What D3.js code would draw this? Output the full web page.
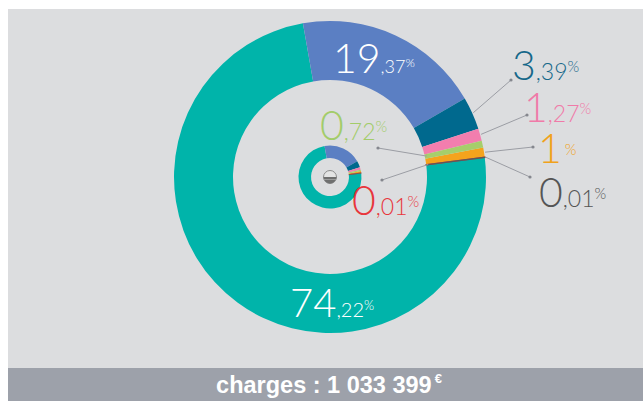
<!DOCTYPE html>
<html lang="fr">
<head>
<meta charset="UTF-8">
<title>charges</title>
<script src="https://d3js.org/d3.v7.min.js"></script>
<style>
  body { margin: 0; background: #fff; }
  svg { display: block; }
</style>
</head>
<body>
<svg></svg>
<script>
// data
const shares = [19.37, 3.39, 1.27, 0.72, 1, 0.01, 0.01, 74.22];
const colors = ['#5b7fc3', '#00698e', '#f27eae', '#a6ce6b', '#f4a31d', '#e5383b', '#5a5a5a', '#00b4aa'];
const labelColors = ['#ffffff', '#16688a', '#f07aa8', '#a3cc6a', '#f0a21b', '#e8363c', '#555555', '#ffffff'];
const totalLabel = 'charges : 1 033 399';
const currency = '€';

// layout (not data)
const w = 643, h = 401;
const cx = 330, cy = 177;
const R = 156, r = 97;
const smallR = 31.5, smallr = 19;
const start = -10 * Math.PI / 180;
// text start / baseline, leader kind, dot position
const labelLayout = [
  { x: 333, y: 73, leader: null, big: 41, dec: 18, pct: 12, raise: 6 },
  { x: 512, y: 80, leader: 'outer', dot: [511, 80] },
  { x: 524, y: 122, leader: 'outer', dot: [527, 115] },
  { x: 320, y: 140, leader: 'inner', dot: [378, 148] },
  { x: 538, y: 163, leader: 'outer', dot: [533, 147] },
  { x: 352, y: 215, leader: 'inner', dot: [382, 180] },
  { x: 539, y: 207, leader: 'outer', dot: [530, 177] },
  { x: 290, y: 317, leader: null, big: 40, dec: 20, pct: 13, raise: 7 }
];

const svg = d3.select('svg')
  .attr('width', w)
  .attr('height', h);

svg.append('rect')
  .attr('x', 8).attr('y', 9)
  .attr('width', w - 8).attr('height', 359)
  .attr('fill', '#dcdddf');

svg.append('rect')
  .attr('x', 8).attr('y', 368)
  .attr('width', w - 8).attr('height', h - 368)
  .attr('fill', '#9da1aa');

const pie = d3.pie()
  .sort(null)
  .startAngle(start)
  .endAngle(start + 2 * Math.PI);

const arcs = pie(shares);
// tiny slices are drawn last with a stroke so they stay visible
const ordered = arcs.map((d, i) => ({ d, i }))
  .sort((a, b) => (b.d.endAngle - b.d.startAngle) - (a.d.endAngle - a.d.startAngle));
const tiny = d => (d.endAngle - d.startAngle) < 0.01;

const bigArc = d3.arc().innerRadius(r).outerRadius(R);
const smallArc = d3.arc().innerRadius(smallr).outerRadius(smallR);

const g = svg.append('g')
  .attr('transform', `translate(${cx},${cy})`);

g.selectAll('path.big')
  .data(ordered)
  .enter()
  .append('path')
  .attr('class', 'big')
  .attr('d', o => bigArc(o.d))
  .attr('fill', o => colors[o.i])
  .attr('stroke', o => tiny(o.d) ? colors[o.i] : 'none')
  .attr('stroke-width', 1.3);

g.selectAll('path.small')
  .data(ordered)
  .enter()
  .append('path')
  .attr('class', 'small')
  .attr('d', o => smallArc(o.d))
  .attr('fill', o => colors[o.i])
  .attr('stroke', o => tiny(o.d) ? colors[o.i] : 'none')
  .attr('stroke-width', 0.5);

// little icon in the middle
g.append('circle')
  .attr('r', 6.5)
  .attr('fill', '#e4e4e4')
  .attr('stroke', '#8c8c8c')
  .attr('stroke-width', 1);
g.append('path')
  .attr('d', d3.arc().innerRadius(0).outerRadius(6.5)({ startAngle: Math.PI / 2, endAngle: 3 * Math.PI / 2 }))
  .attr('fill', '#6f6f6f');
g.append('line')
  .attr('x1', -6).attr('x2', 6)
  .attr('y1', 2.5).attr('y2', 2.5)
  .attr('stroke', '#9a9a9a')
  .attr('stroke-width', 1);

// leader lines
const leaderColor = '#9b9da4';
arcs.forEach((d, i) => {
  const L = labelLayout[i];
  if (!L.leader) return;
  const a = (d.startAngle + d.endAngle) / 2;
  const rad = L.leader === 'outer' ? R + 1 : r + 2;
  const x0 = cx + rad * Math.sin(a);
  const y0 = cy - rad * Math.cos(a);
  svg.append('line')
    .attr('x1', x0).attr('y1', y0)
    .attr('x2', L.dot[0]).attr('y2', L.dot[1])
    .attr('stroke', leaderColor)
    .attr('stroke-width', 1);
  svg.append('circle')
    .attr('cx', L.dot[0]).attr('cy', L.dot[1])
    .attr('r', 1.6)
    .attr('fill', '#85878e');
});

// percentage labels
const labelFont = 'Lato, "Open Sans", Roboto, sans-serif';
shares.forEach((v, i) => {
  const L = labelLayout[i];
  const parts = String(v).split('.');
  const t = svg.append('text')
    .attr('x', L.x).attr('y', L.y)
    .attr('fill', labelColors[i])
    .attr('font-family', labelFont)
    .attr('font-weight', 300);
  t.append('tspan')
    .attr('font-size', L.big || 41)
    .text(parts[0]);
  if (parts[1]) {
    t.append('tspan')
      .attr('font-size', L.dec || 23)
      .text(',' + parts[1]);
  }
  const raise = L.raise || 8;
  t.append('tspan')
    .attr('font-size', L.pct || 15)
    .attr('dx', parts[1] ? 0 : 3)
    .attr('dy', -raise)
    .text('%');
});

// total bar
const tt = svg.append('text')
  .attr('x', 329).attr('y', 393)
  .attr('text-anchor', 'middle')
  .attr('fill', '#ffffff')
  .attr('font-family', '"Liberation Sans", Arial, sans-serif')
  .attr('font-weight', 'bold');
tt.append('tspan')
  .attr('font-size', 23.5)
  .text(totalLabel);
tt.append('tspan')
  .attr('font-size', 13)
  .attr('dx', 3)
  .attr('dy', -10)
  .text(currency);
</script>
</body>
</html>
